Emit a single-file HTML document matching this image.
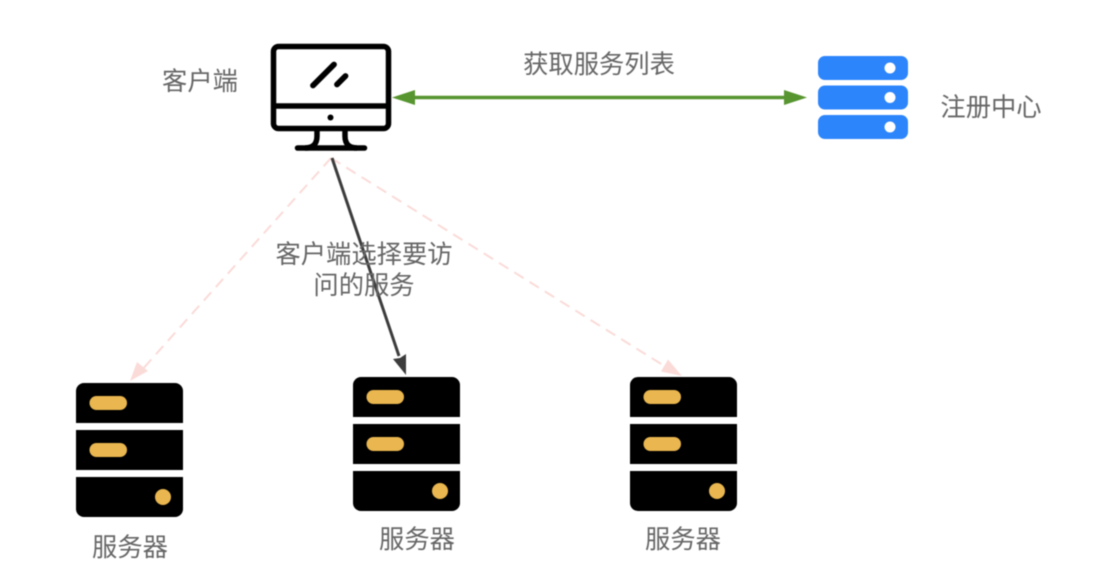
<!DOCTYPE html>
<html><head><meta charset="utf-8">
<style>
html,body{margin:0;padding:0;background:#fff}
svg{display:block;filter:blur(0.4px)}
text{font-family:"Liberation Sans","Noto Sans CJK SC",sans-serif;font-size:25.300px;fill:#666;text-anchor:middle;font-weight:400}
</style></head>
<body>
<svg width="1103" height="566" viewBox="0 0 1103 566" xmlns="http://www.w3.org/2000/svg">
<defs>
<g id="srv">
<path d="M76 423V391a8 8 0 0 1 8-8H175a8 8 0 0 1 8 8V423Z" fill="#000"/>
<rect x="76" y="430" width="107" height="40" fill="#000"/>
<path d="M76 477H183V509a8 8 0 0 1-8 8H84a8 8 0 0 1-8-8Z" fill="#000"/>
<rect x="89.500" y="396" width="37.500" height="14" rx="7" fill="#e9b64f"/>
<rect x="89.500" y="443" width="37.500" height="14" rx="7" fill="#e9b64f"/>
<circle cx="163" cy="497" r="8" fill="#e9b64f"/>
</g>
</defs>

<!-- servers -->
<use href="#srv"/>
<use href="#srv" transform="translate(277,-6)"/>
<use href="#srv" transform="translate(554,-6)"/>

<!-- dashed connectors -->
<g stroke="#fadbd8" stroke-width="2" fill="none" stroke-dasharray="11 7">
<path d="M331 158L141 371"/>
<path d="M331 158L666 367"/>
</g>
<polygon points="130,381 137,362 148,371" fill="#fadbd8"/>
<polygon points="682,376 661,371.500 668,359.500" fill="#fadbd8"/>

<!-- solid connector -->
<path d="M332 158L399 356" stroke="#3c3c3c" stroke-width="3" fill="none"/>
<polygon points="406,375 393,359 400,358 406,354" fill="#3c3c3c"/>

<!-- green connector -->
<path d="M405 97.500H795" stroke="#56952f" stroke-width="3.500" fill="none"/>
<polygon points="392,97.500 415,90 415,105" fill="#56952f"/>
<polygon points="807,97.500 784,90 784,105" fill="#56952f"/>

<!-- monitor -->
<g fill="none" stroke="#000" stroke-width="5.500" stroke-linecap="round">
<rect x="273.500" y="46.500" width="115" height="82" rx="5"/>
<path d="M273 106H388" stroke-linecap="butt"/>
<path d="M313 85.500L334 64.500" stroke-width="5.800"/>
<path d="M337 84.500L345.500 76" stroke-width="5.800"/>
<path d="M297.500 148H364.500"/>
<path d="M317 130V136Q317 148 305 148" stroke-linecap="butt"/>
<path d="M345 130V136Q345 148 357 148" stroke-linecap="butt"/>
</g>
<circle cx="330.500" cy="117.500" r="3" fill="#000"/>

<!-- registry -->
<rect x="818" y="56" width="90" height="24" rx="7" fill="#2d85fb"/>
<rect x="818" y="85.500" width="90" height="24" rx="7" fill="#2d85fb"/>
<rect x="818" y="115" width="90" height="24" rx="7" fill="#2d85fb"/>
<circle cx="890" cy="68" r="5.500" fill="#fff"/>
<circle cx="890" cy="97.500" r="5.500" fill="#fff"/>
<circle cx="890" cy="127" r="5.500" fill="#fff"/>

<!-- labels -->
<text x="200" y="90">客户端</text>
<text x="599" y="73">获取服务列表</text>
<text x="991" y="116">注册中心</text>
<text x="364" y="263">客户端选择要访</text>
<text x="364" y="294">问的服务</text>
<text x="130" y="556">服务器</text>
<text x="417" y="548">服务器</text>
<text x="683" y="548">服务器</text>
</svg>
</body></html>
